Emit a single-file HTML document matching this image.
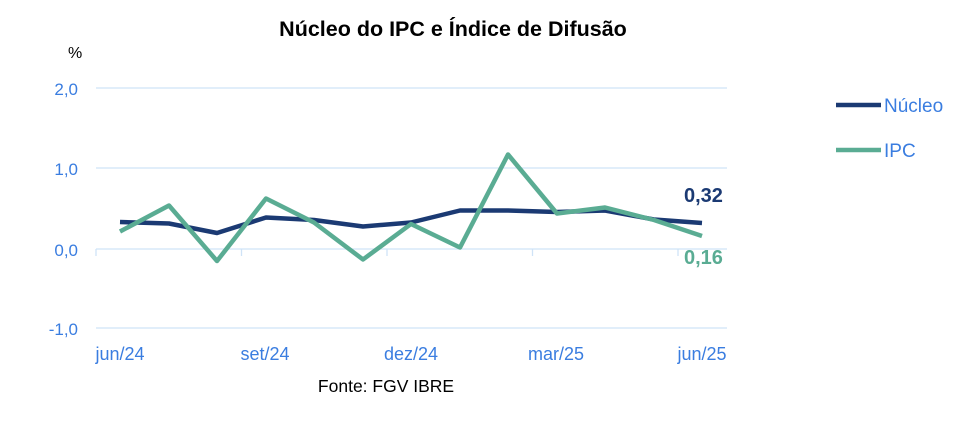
<!DOCTYPE html>
<html><head><meta charset="utf-8"><style>
body{margin:0;background:#fff;width:971px;height:439px;overflow:hidden}
</style></head><body>
<svg width="971" height="439" viewBox="0 0 971 439" xmlns="http://www.w3.org/2000/svg" font-family="Liberation Sans, sans-serif">
<text x="453" y="36" text-anchor="middle" font-size="21.5" font-weight="bold" fill="#000">Núcleo do IPC e Índice de Difusão</text>
<text x="68" y="58" font-size="16" fill="#000">%</text>
<g stroke="#cfe3f7" stroke-width="1.3">
<line x1="96" y1="88" x2="727" y2="88"/>
<line x1="96" y1="168" x2="727" y2="168"/>
<line x1="96" y1="328" x2="727" y2="328"/>
<line x1="96" y1="249" x2="727" y2="249"/>
<line x1="96" y1="249" x2="96" y2="256"/><line x1="241.5" y1="249" x2="241.5" y2="256"/><line x1="387" y1="249" x2="387" y2="256"/><line x1="532.5" y1="249" x2="532.5" y2="256"/><line x1="678" y1="249" x2="678" y2="256"/>
</g>
<g font-size="17" fill="#3a7de0" text-anchor="end">
<text x="78" y="95">2,0</text><text x="78" y="175">1,0</text><text x="78" y="256">0,0</text><text x="78" y="335">-1,0</text>
</g>
<g font-size="18" fill="#3a7de0" text-anchor="middle">
<text x="120" y="360">jun/24</text><text x="265" y="360">set/24</text><text x="411" y="360">dez/24</text><text x="556" y="360">mar/25</text><text x="702" y="360">jun/25</text>
</g>
<polyline fill="none" stroke="#1b3a73" stroke-width="4.5" stroke-linejoin="round" points="120,222 169,223.5 217,233 266,217.5 314,220 363,226.5 411,222.5 460,210.5 508,210.5 557,212 605,210.5 654,219.5 702,223"/>
<polyline fill="none" stroke="#5aac93" stroke-width="4.5" stroke-linejoin="round" points="120,231.5 169,205.5 217,261 266,198.5 314,222.5 363,259.5 411,224 460,247.5 508,154.5 557,213.5 605,207.5 654,220 702,236"/>
<text x="684" y="202" font-size="20" font-weight="bold" fill="#1b3a73">0,32</text>
<text x="684" y="264" font-size="20" font-weight="bold" fill="#5aac93">0,16</text>
<line x1="836" y1="105" x2="881" y2="105" stroke="#1b3a73" stroke-width="4.5"/>
<text x="884" y="112" font-size="19" fill="#3a7de0">Núcleo</text>
<line x1="836" y1="150" x2="881" y2="150" stroke="#5aac93" stroke-width="4.5"/>
<text x="884" y="157" font-size="19" fill="#3a7de0">IPC</text>
<text x="386" y="392" text-anchor="middle" font-size="17.5" fill="#000">Fonte: FGV IBRE</text>
</svg>
</body></html>
